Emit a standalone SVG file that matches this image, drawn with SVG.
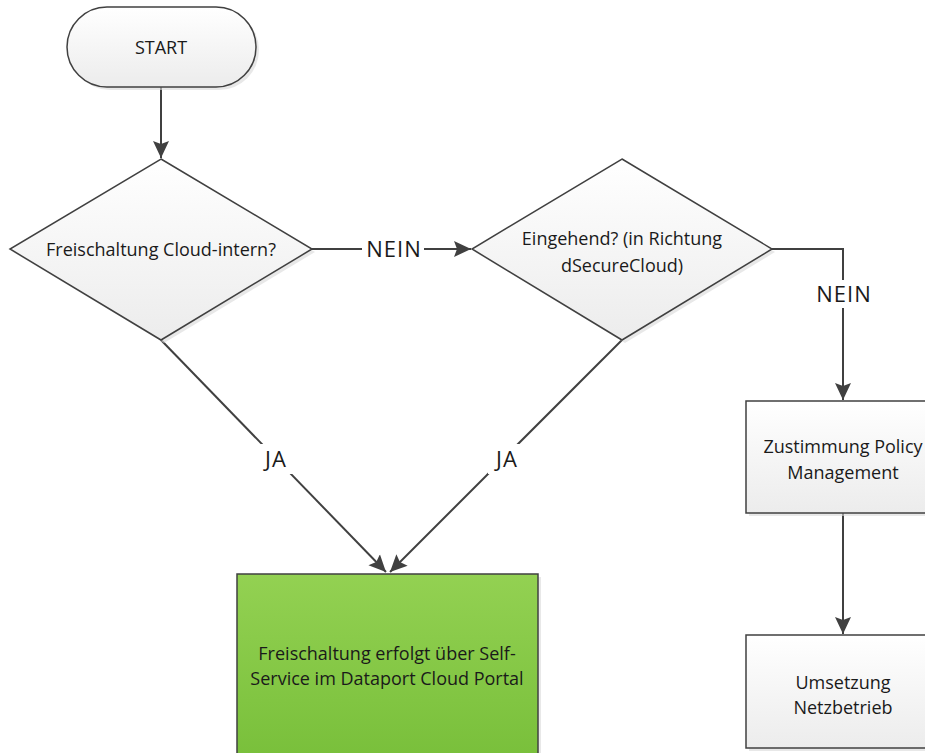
<svg xmlns="http://www.w3.org/2000/svg" width="925" height="753" viewBox="0 0 925 753">
<style>
.shape{stroke:#404040;stroke-width:1.5}
.gray{fill:url(#g)}
.green{fill:url(#gr)}
.shadow{fill:#d9d9d9;opacity:0.6}
.t{font-family:"Open Sans","Liberation Sans",sans-serif;font-size:18px;fill:#1a1a1a;text-anchor:middle;dominant-baseline:central}
.lbl{font-family:"Open Sans","Liberation Sans",sans-serif;font-size:22px;letter-spacing:1px;fill:#1a1a1a;text-anchor:middle;dominant-baseline:central}
.c{stroke:#404040;stroke-width:2;fill:none}
</style>
<defs>
<linearGradient id="g" x1="0" y1="0" x2="0" y2="1"><stop offset="0" stop-color="#ffffff"/><stop offset="1" stop-color="#ececec"/></linearGradient>
<linearGradient id="gr" x1="0" y1="0" x2="0" y2="1"><stop offset="0" stop-color="#93d152"/><stop offset="1" stop-color="#78bf3a"/></linearGradient>
<marker id="a" markerWidth="18" markerHeight="18" refX="17" refY="9" orient="auto" markerUnits="userSpaceOnUse">
<path d="M0,1 L17,9 L0,17 L3,9 Z" fill="#404040"/>
</marker>
</defs>
<rect width="925" height="753" fill="#ffffff"/>
<g id="connectors">
<line class="c" x1="161" y1="87" x2="161" y2="158" marker-end="url(#a)"/>
<line class="c" x1="312" y1="249" x2="471" y2="249" marker-end="url(#a)"/>
<polyline class="c" points="772,249 843,249 843,400" marker-end="url(#a)"/>
<line class="c" x1="843" y1="513" x2="843" y2="634" marker-end="url(#a)"/>
<line class="c" x1="161" y1="340" x2="386" y2="572" marker-end="url(#a)"/>
<line class="c" x1="622" y1="340" x2="390" y2="572" marker-end="url(#a)"/>
<rect x="362" y="235" width="62" height="28" fill="#ffffff"/>
<text class="lbl" x="394" y="248">NEIN</text>
<rect x="812" y="280" width="62" height="28" fill="#ffffff"/>
<text class="lbl" x="844" y="293">NEIN</text>
<rect x="258" y="444" width="36" height="30" fill="#ffffff"/>
<text class="lbl" x="276" y="458">JA</text>
<rect x="488" y="444" width="36" height="30" fill="#ffffff"/>
<text class="lbl" x="507" y="458">JA</text>
</g>
<g id="start">
<rect class="shadow" x="70" y="10" width="189" height="80" rx="40"/>
<rect class="shape gray" x="67" y="7" width="189" height="80" rx="40"/>
<text class="t" x="161" y="47">START</text>
</g>
<g id="d1">
<polygon class="shadow" points="164,162 315,252 164,343 13,252"/>
<polygon class="shape gray" points="161,159 312,249 161,340 10,249"/>
<text class="t" x="161" y="249">Freischaltung Cloud-intern?</text>
</g>
<g id="d2">
<polygon class="shadow" points="625,162 775,252 625,343 475,252"/>
<polygon class="shape gray" points="622,159 772,249 622,340 472,249"/>
<text class="t" x="622" y="238">Eingehend? (in Richtung</text>
<text class="t" x="622" y="265">dSecureCloud)</text>
</g>
<g id="policy">
<rect class="shadow" x="749" y="404" width="194" height="112"/>
<rect class="shape gray" x="746" y="401" width="194" height="112"/>
<text class="t" x="843" y="446">Zustimmung Policy</text>
<text class="t" x="843" y="472">Management</text>
</g>
<g id="netz">
<rect class="shadow" x="749" y="638" width="194" height="113"/>
<rect class="shape gray" x="746" y="635" width="194" height="113"/>
<text class="t" x="843" y="682">Umsetzung</text>
<text class="t" x="843" y="707">Netzbetrieb</text>
</g>
<g id="self">
<rect class="shadow" x="240" y="577" width="301" height="190"/>
<rect class="shape green" x="237" y="574" width="301" height="190"/>
<text class="t" x="387" y="653">Freischaltung erfolgt über Self-</text>
<text class="t" x="387" y="678">Service im Dataport Cloud Portal</text>
</g>
</svg>
